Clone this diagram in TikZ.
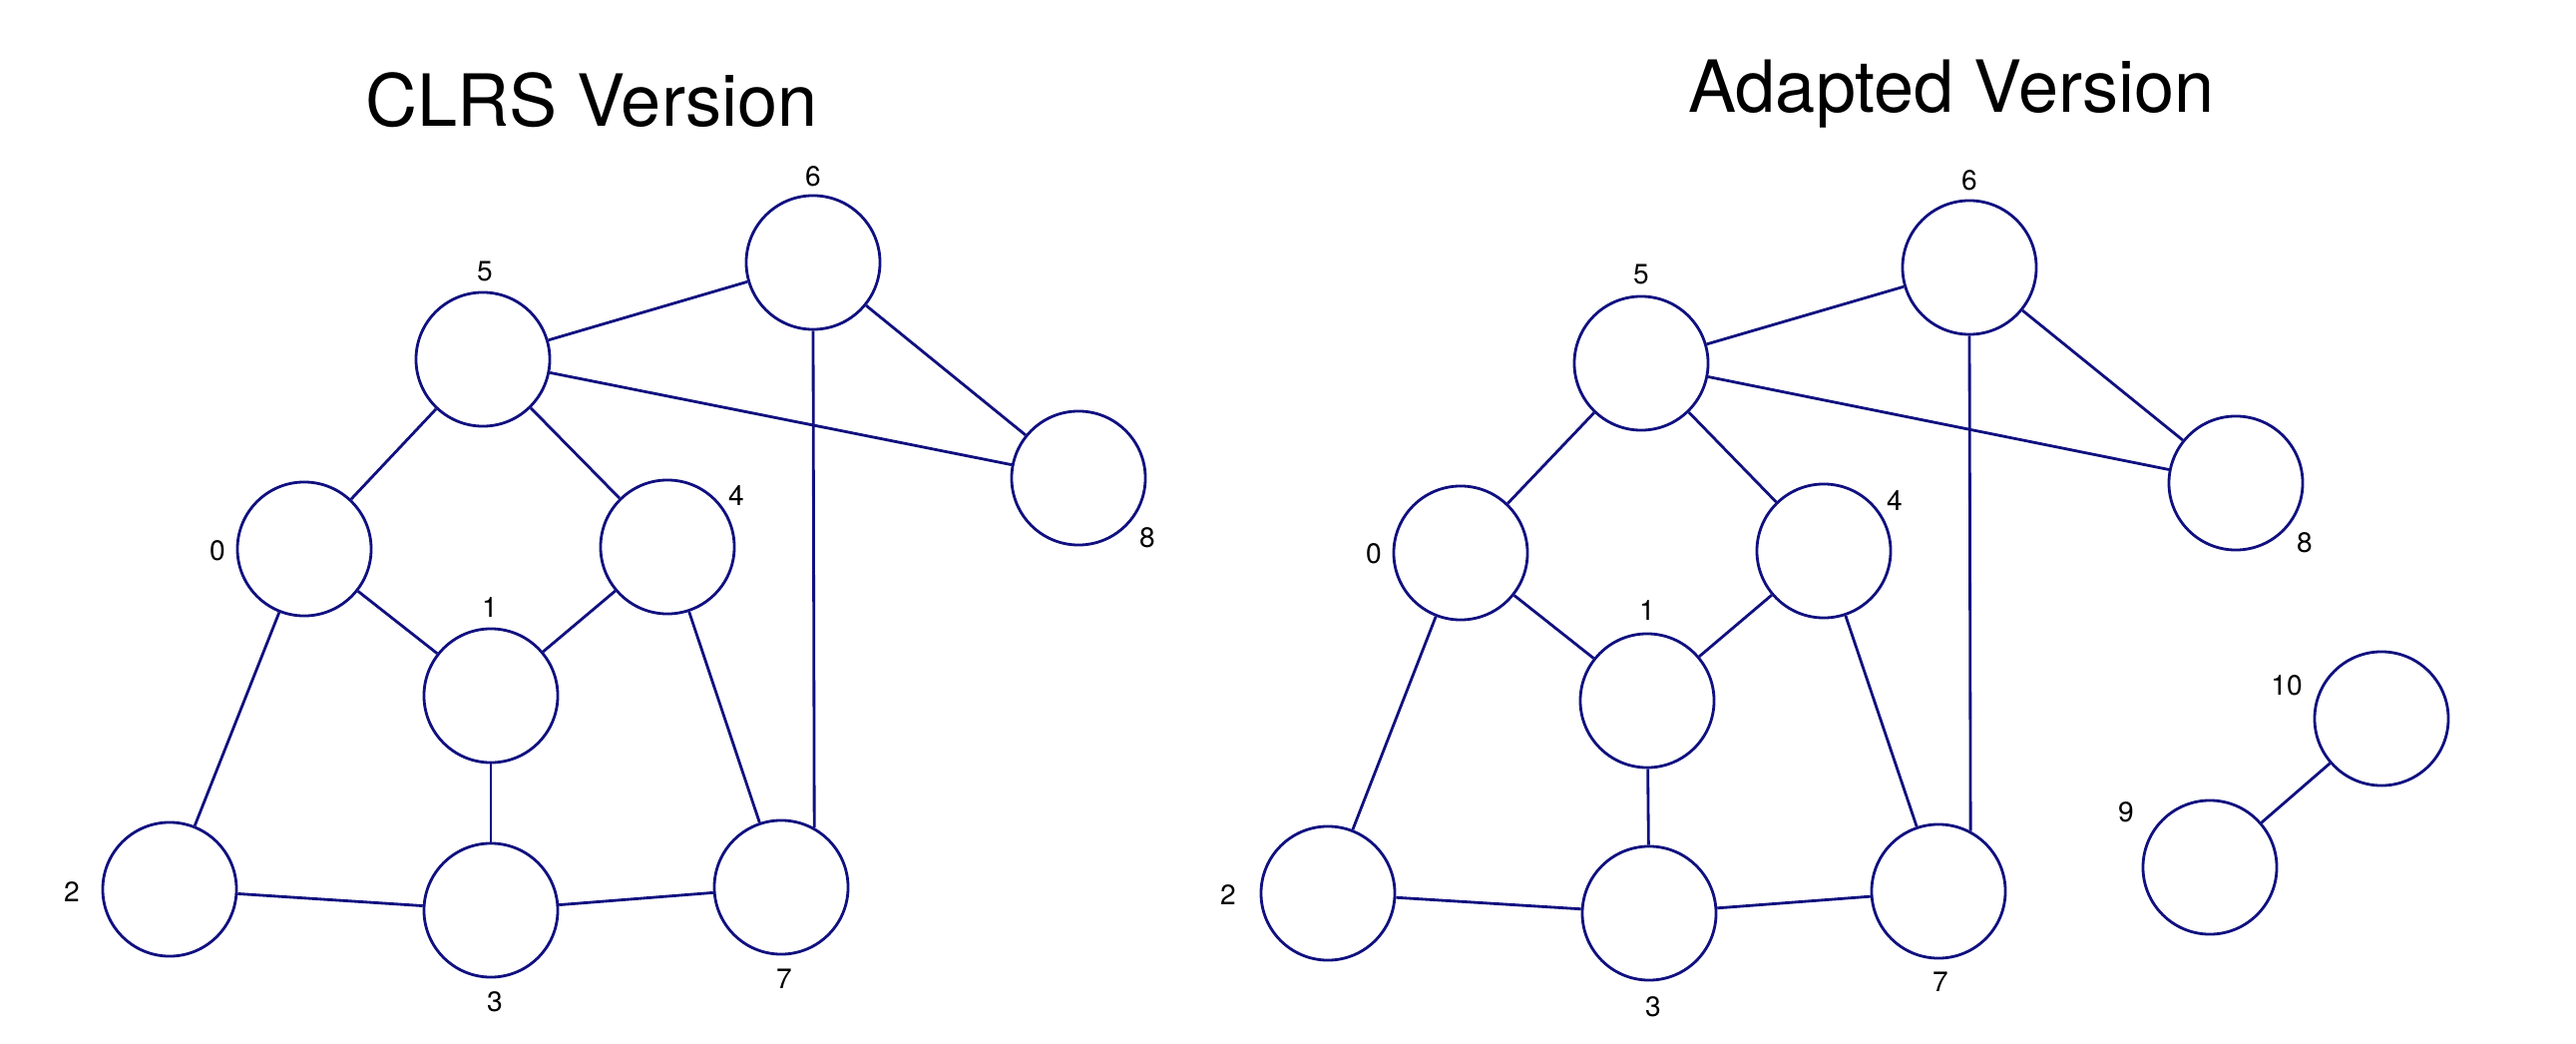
\documentclass[tikz,border=0pt]{standalone}
\usepackage{fontspec}
\setmainfont{TeX Gyre Heros}
\definecolor{edgeblue}{RGB}{16,16,128}
\tikzset{
  vertex/.style={circle,draw=edgeblue,line width=0.8pt,minimum size=1.34cm,inner sep=0pt},
  edge/.style={draw=edgeblue,line width=0.8pt},
  vlabel/.style={font=\fontsize{8}{10}\selectfont,inner sep=0pt},
  heading/.style={font=\fontsize{20.5}{24}\selectfont,anchor=base,inner sep=0pt}
}
\begin{document}
\begin{tikzpicture}[x=0.01cm,y=-0.01cm]
    \useasboundingbox (0,0) rectangle (2582,1046);
    % left graph
    \node[heading] (titleA) at (593,127) {CLRS Version};
    \node[vertex] (a6) at (815,263) {};
    \node[vertex] (a5) at (484,360) {};
    \node[vertex] (a0) at (305,550) {};
    \node[vertex] (a4) at (669,548) {};
    \node[vertex] (a8) at (1081,479) {};
    \node[vertex] (a1) at (492,697) {};
    \node[vertex] (a2) at (170,891) {};
    \node[vertex] (a3) at (492,912) {};
    \node[vertex] (a7) at (783,889) {};
    \node[vlabel] (la6) at (815,177) {6};
    \node[vlabel] (la5) at (486,272) {5};
    \node[vlabel] (la0) at (218,552) {0};
    \node[vlabel] (la4) at (738,497) {4};
    \node[vlabel] (la8) at (1150,539) {8};
    \node[vlabel] (la1) at (491,609) {1};
    \node[vlabel] (la2) at (72,894) {2};
    \node[vlabel] (la3) at (496,1004) {3};
    \node[vlabel] (la7) at (786,981) {7};
    \foreach \u/\v in {a5/a6,a5/a8,a6/a8,a5/a0,a5/a4,a0/a1,a4/a1,a0/a2,a4/a7,a1/a3,a2/a3,a3/a7}
        \draw[edge] (\u) -- (\v);
    \draw[edge] (a6.south) -- (a7.61);
    % right graph
    \node[heading] (titleB) at (1956,113) {Adapted Version};
    \node[vertex] (b6) at (1974,268) {};
    \node[vertex] (b5) at (1645,364) {};
    \node[vertex] (b0) at (1464,554) {};
    \node[vertex] (b4) at (1828,552) {};
    \node[vertex] (b8) at (2241,484) {};
    \node[vertex] (b1) at (1651,702) {};
    \node[vertex] (b2) at (1331,895) {};
    \node[vertex] (b3) at (1653,915) {};
    \node[vertex] (b7) at (1943,893) {};
    \node[vertex] (b10) at (2387,720) {};
    \node[vertex] (b9) at (2215,869) {};
    \node[vlabel] (lb6) at (1974,181) {6};
    \node[vlabel] (lb5) at (1645,275) {5};
    \node[vlabel] (lb0) at (1377,555) {0};
    \node[vlabel] (lb4) at (1899,502) {4};
    \node[vlabel] (lb8) at (2310,544) {8};
    \node[vlabel] (lb1) at (1651,612) {1};
    \node[vlabel] (lb2) at (1231,897) {2};
    \node[vlabel] (lb3) at (1657,1009) {3};
    \node[vlabel] (lb7) at (1945,984) {7};
    \node[vlabel] (lb10) at (2292,687) {10};
    \node[vlabel] (lb9) at (2131,814) {9};
    \foreach \u/\v in {b5/b6,b5/b8,b6/b8,b5/b0,b5/b4,b0/b1,b4/b1,b0/b2,b4/b7,b1/b3,b2/b3,b3/b7,b9/b10}
        \draw[edge] (\u) -- (\v);
    \draw[edge] (b6.south) -- (b7.62);
\end{tikzpicture}
\end{document}
